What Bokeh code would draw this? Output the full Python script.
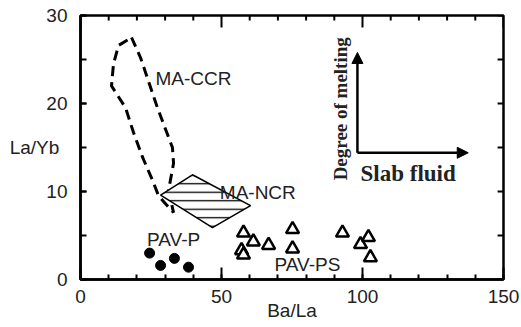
from bokeh.plotting import figure
from bokeh.models import FixedTicker, Label, Arrow, NormalHead, Range1d
from bokeh.embed import file_html
from bokeh.resources import INLINE

# ---- data ----
ccr_x = [18.1, 21.3, 27.3, 32.6, 33.0, 31.9, 31.2, 33.0, 27.7, 25.5, 22.0, 18.8, 16.0, 11.0, 11.7, 13.5]
ccr_y = [27.5, 25.2, 19.5, 15.0, 13.2, 11.3, 10.1, 7.6, 9.5, 11.3, 13.9, 16.7, 19.5, 22.0, 24.5, 26.6]

ncr_x = [39.7, 60.3, 46.8, 28.4]
ncr_y = [11.9, 8.4, 5.9, 9.6]

pavp_x = [24.5, 28.4, 33.3, 38.3]
pavp_y = [3.0, 1.6, 2.4, 1.4]

pavps_x = [57.8, 61.3, 57.1, 57.8, 66.7, 75.2, 75.2, 92.9, 99.3, 102.1, 102.8]
pavps_y = [5.3, 4.3, 3.3, 2.8, 3.9, 5.7, 3.5, 5.3, 4.0, 4.8, 2.5]

x_ticks = [0, 50, 100, 150]
x_minor = list(range(0, 151, 10))
y_ticks = [0, 10, 20, 30]
y_minor = list(range(0, 31, 5))

X_MAX, Y_MAX = 150, 30

FONT = "Liberation Sans"
SERIF = "Liberation Serif"
TXT = "#222222"

p = figure(width=521, height=327, output_backend="svg", toolbar_location=None,
           x_range=Range1d(0, X_MAX), y_range=Range1d(0, Y_MAX),
           min_border_left=80, min_border_right=18, min_border_top=15, min_border_bottom=48)
p.grid.visible = False
p.outline_line_color = "black"
p.outline_line_width = 2.5
p.background_fill_color = "white"
p.border_fill_color = "white"

def style(ax, horiz=True):
    ax.ticker = FixedTicker(ticks=x_ticks if horiz else y_ticks,
                            minor_ticks=x_minor if horiz else y_minor)
    ax.axis_line_width = 2.5
    ax.axis_line_color = "black"
    ax.major_tick_line_width = 2
    ax.minor_tick_line_width = 2
    ax.major_tick_out = 0
    ax.minor_tick_out = 0
    ax.major_tick_in = 12 if horiz else 6
    ax.minor_tick_in = 5 if horiz else 6
    ax.major_label_text_font = FONT
    ax.major_label_text_font_size = "19px"
    ax.major_label_text_color = TXT
    ax.axis_label_text_font = FONT
    ax.axis_label_text_font_size = "19px"
    ax.axis_label_text_font_style = "normal"
    ax.axis_label_text_color = TXT

style(p.xaxis[0], True)
style(p.yaxis[0], False)
p.xaxis[0].major_label_standoff = 10
p.xaxis[0].axis_label = "Ba/La"
p.xaxis[0].axis_label_standoff = -6
p.yaxis[0].major_label_standoff = 13
p.yaxis[0].axis_label = "La/Yb"
p.yaxis[0].axis_label_orientation = "horizontal"
p.yaxis[0].axis_label_standoff = -16

# inward ticks on the top and right frame edges (same tick positions)
top_len = [1.36 if t in x_ticks else 0.57 for t in x_minor]
p.segment(x0=x_minor, y0=[Y_MAX] * len(x_minor), x1=x_minor,
          y1=[Y_MAX - l for l in top_len], line_color="black", line_width=2)
p.segment(x0=[X_MAX] * len(y_minor), y0=y_minor, x1=[X_MAX - 2.1] * len(y_minor),
          y1=y_minor, line_color="black", line_width=2)

# MA-CCR dashed field
p.patch(ccr_x, ccr_y, fill_color=None, line_color="black", line_width=3, line_dash="10 6")

# MA-NCR hatched diamond
p.patch(ncr_x, ncr_y, fill_color="white", line_color="black", line_width=1.5,
        hatch_pattern="horizontal_line", hatch_color="black", hatch_scale=8.5, hatch_weight=1.3)

# PAV-P
p.scatter(pavp_x, pavp_y, marker="circle", size=10, fill_color="black", line_color="black")

# PAV-PS
p.scatter(pavps_x, pavps_y, marker="triangle", size=13, fill_color="white",
          line_color="black", line_width=2.5)

def lab(x, y, t, size="19px", font=FONT, bold=False, angle=0, align="left", base="middle"):
    p.add_layout(Label(x=x, y=y, text=t, text_font=font, text_font_size=size,
                       text_font_style="bold" if bold else "normal", angle=angle,
                       text_align=align, text_baseline=base, text_color=TXT))

lab(26.6, 22.8, "MA-CCR")
lab(49.4, 9.9, "MA-NCR")
lab(23.6, 4.5, "PAV-P")
lab(68.8, 1.7, "PAV-PS")

# schematic arrows
ax0, ay0 = 98.2, 14.4
p.add_layout(Arrow(end=NormalHead(size=11, fill_color="black", line_color="black"),
                   x_start=ax0, y_start=ay0, x_end=ax0, y_end=25.8, line_width=2.5))
p.add_layout(Arrow(end=NormalHead(size=11, fill_color="black", line_color="black"),
                   x_start=ax0, y_start=ay0, x_end=137.5, y_end=ay0, line_width=2.5))
lab(92.2, 19.4, "Degree of melting", size="19px", font=SERIF, bold=True,
    angle=1.5708, align="center", base="middle")
lab(99.3, 12.0, "Slab fluid", size="23px", font=SERIF, bold=True, align="left")

open("out.html", "w").write(file_html(p, INLINE))
